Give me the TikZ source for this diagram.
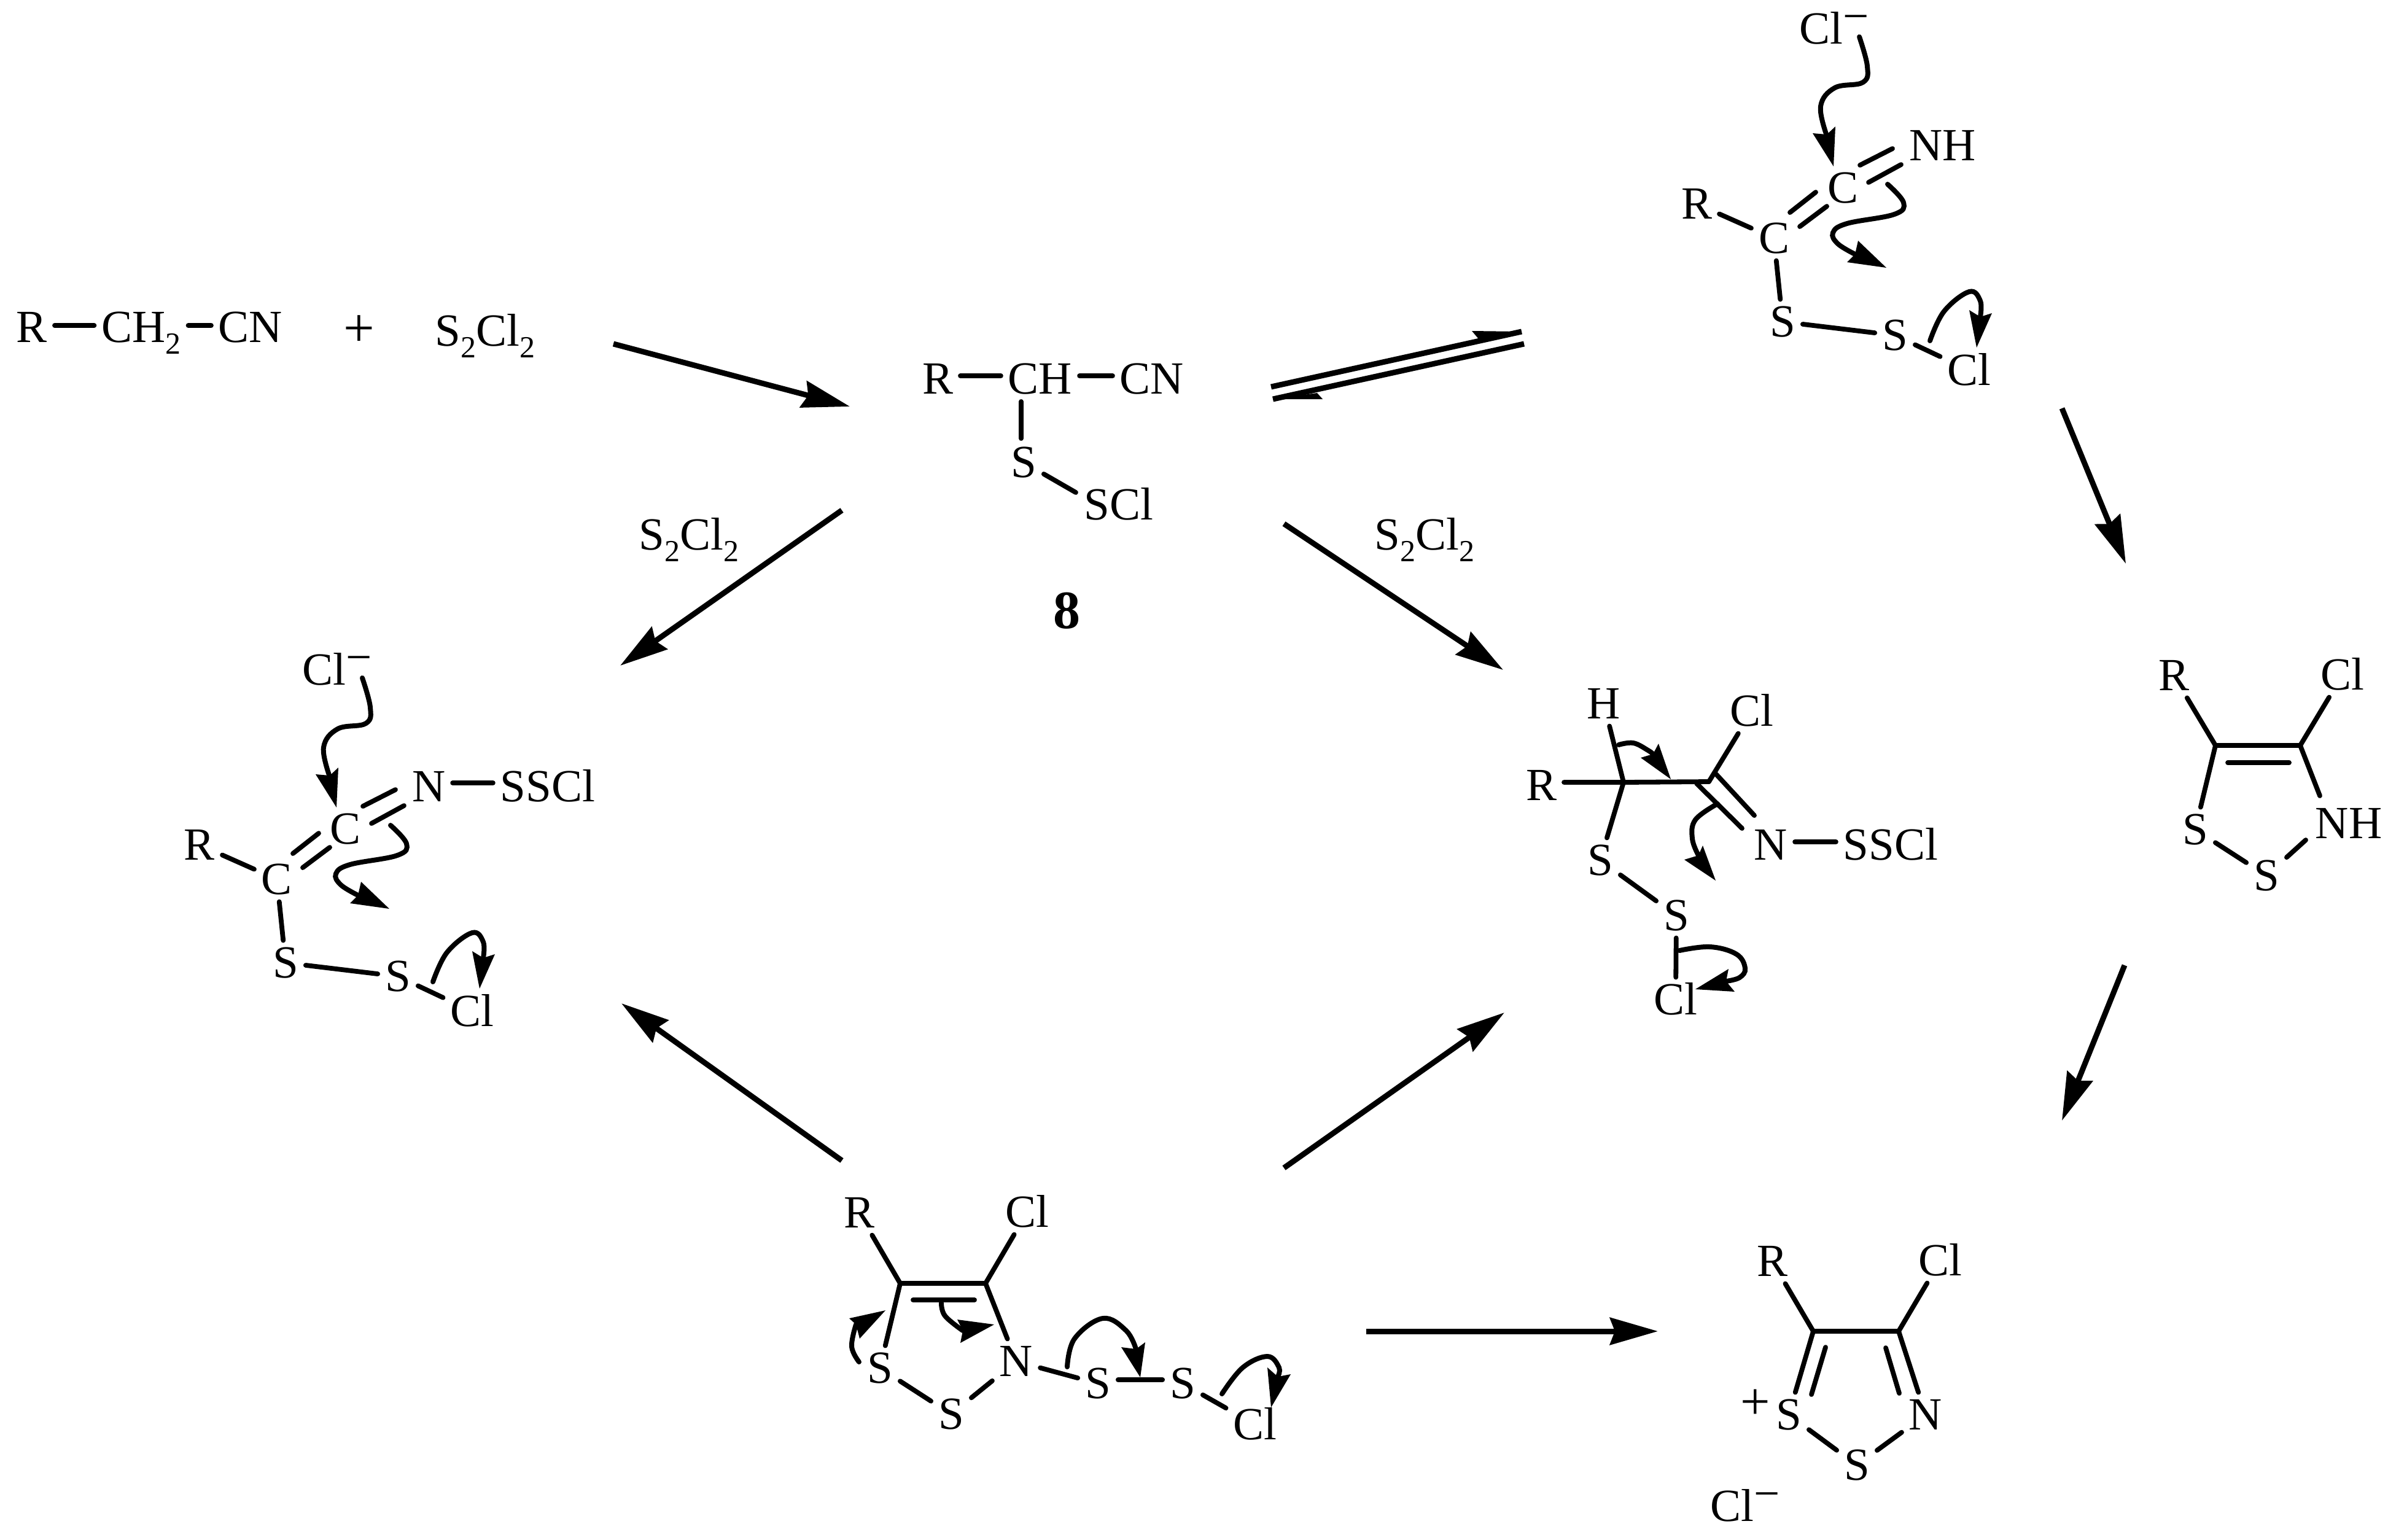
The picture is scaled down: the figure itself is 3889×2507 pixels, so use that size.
\documentclass[tikz,border=0pt]{standalone}
\usepackage{fontspec}
\setmainfont{Liberation Serif}
\usetikzlibrary{arrows.meta}
\newcommand\mysub[1]{\raisebox{-1.9pt}{\fontsize{5}{5}\selectfont #1}}
\newcommand\myminus{\raisebox{2pt}{−}}
\newcommand\curly[5]{%
  \draw[curve] plot[smooth,tension=.65] coordinates {#1};
  \fill #2 -- #3 -- #4 -- #5 -- cycle;}
\newcommand\hbond[3]{\draw[bond] ([yshift=#3]#1.east) -- ([yshift=#3]#2.west);}
% shared fragment: C(R)=C=N with S-S-Cl and two curved arrows plus chloride attack
\newcommand\thiofrag[2]{%
  \node[atom] (#1cm) at (2987,47) {Cl\myminus};
  \node[atom] (#1r) at (2763,332) {R};
  \node[atom] (#1ca) at (2889,388) {C};
  \node[atom] (#1cb) at (3001,306) {C};
  \node[atom,anchor=west] (#1n) at (3097,237) {#2};
  \node[atom] (#1sa) at (2903,524) {S};
  \node[atom] (#1sb) at (3086,546) {S};
  \node[atom] (#1cl) at (3207,603) {Cl};
  \draw[bond] (#1r) -- (#1ca);
  \draw[bond] ([shift={(26,-42)}]#1ca.center) -- ([shift={(-44,7)}]#1cb.center);
  \draw[bond] ([shift={(42,-19)}]#1ca.center) -- ([shift={(-26,30)}]#1cb.center);
  \draw[bond] ([shift={(28,-37)}]#1cb.center) -- ([shift={(-15,5)}]#1n.west);
  \draw[bond] ([shift={(42,-9)}]#1cb.center) -- ([shift={(-1,31)}]#1n.west);
  \draw[bond] (#1ca) -- (#1sa);
  \draw[bond] (#1sa) -- (#1sb);
  \draw[bond] (#1sb) -- (#1cl);
  \curly{(3028,60) (3041,108) (3034,134) (2988,143) (2965,173) (2975,221)}
        {(2986,271)}{(2952,217)}{(2975,219)}{(2989,206)}
  \curly{(3074,300) (3100,330) (3085,349) (3008,364) (2985,379) (2993,397) (3021,414)}
        {(3072,436)}{(3008,427)}{(3021,414)}{(3026,392)}
  \curly{(3143,555) (3166,507) (3207,475) (3225,490) (3225,516)}
        {(3219,566)}{(3207,505)}{(3225,516)}{(3244,510)}
}
\tikzset{
  atom/.style={inner sep=0pt,outer sep=1.2pt,text height=4.9pt,text depth=0pt,
    font=\fontsize{7.5}{9}\selectfont},
  bond/.style={line width=.78pt,line cap=round,line join=round},
  curve/.style={line width=.8pt,line cap=round},
  rxn/.style={line width=.9pt,-{Stealth[length=7.8pt,width=4.4pt,inset=.8pt]}},
  eqline/.style={line width=.9pt},
  bigplus/.style={font=\fontsize{#1}{10}\selectfont},
  compound/.style={inner sep=0pt,font=\fontsize{8.8}{10}\selectfont\bfseries}
}
\begin{document}
\begin{tikzpicture}[x=0.1pt,y=-0.1pt]
\useasboundingbox (0,0) rectangle (3889,2507);

% starting materials
\node[atom] (r0) at (52,533) {R};
\node[atom] (ch2) at (230,533) {CH\mysub{2}};
\node[atom] (cn0) at (408,533) {CN};
\node[atom,bigplus=9] (plus0) at (585,540) {+};
\node[atom] (s2a) at (790,539) {S\mysub{2}Cl\mysub{2}};
\hbond{r0}{ch2}{.3pt}
\hbond{ch2}{cn0}{.3pt}

% compound 8
\node[atom] (r8) at (1527,617) {R};
\node[atom] (ch8) at (1694,617) {CH};
\node[atom] (cn8) at (1876,617) {CN};
\node[atom] (s8) at (1667,753) {S};
\node[atom] (scl8) at (1822,822) {SCl};
\node[compound] (num8) at (1737,995) {8};
\hbond{r8}{ch8}{.5pt}
\hbond{ch8}{cn8}{.5pt}
\draw[bond] ([shift={(-31,37)}]ch8.center) -- ([shift={(-4,-39)}]s8.center);
\draw[bond] (s8) -- ([shift={(-70,-20)}]scl8.center);

% reagents on arrows
\node[atom] (s2b) at (1122,871) {S\mysub{2}Cl\mysub{2}};
\node[atom] (s2c) at (2320,871) {S\mysub{2}Cl\mysub{2}};

% upper right and left intermediates
\thiofrag{u}{NH}
\begin{scope}[shift={(-2438,1044)}]
\thiofrag{v}{N}
\node[atom] (vs) at (3330,237) {SSCl};
\end{scope}
\hbond{vn}{vs}{.6pt}

% chlorinated intermediate
\node[atom] (wh) at (2612,1146) {H};
\node[atom] (wcl) at (2853,1158) {Cl};
\node[atom] (wr) at (2510,1279) {R};
\coordinate (wc1) at (2644,1274);
\coordinate (wc2) at (2783,1273);
\node[atom] (wsa) at (2606,1401) {S};
\node[atom] (wsb) at (2730,1491) {S};
\node[atom] (wcl2) at (2729,1628) {Cl};
\node[atom] (wn) at (2884,1376) {N};
\node[atom] (wssc) at (3079,1376) {SSCl};
\draw[bond] ([yshift=.5pt]wr.east) -- (wc1) -- (wc2);
\draw[bond] (wh) -- (wc1);
\draw[bond] (wcl) -- (wc2);
\draw[bond] (wc1) -- (wsa);
\draw[bond] (wsa) -- (wsb);
\draw[bond] (wsb) -- (wcl2);
\draw[bond] ([shift={(11,-13)}]wc2) -- ([shift={(-27,-48)}]wn.center);
\draw[bond] ([shift={(-20,3)}]wc2) -- ([shift={(-47,-27)}]wn.center);
\hbond{wn}{wssc}{.5pt}
\curly{(2636,1213) (2660,1210) (2684,1222) (2692,1228)}
      {(2721,1269)}{(2672,1234)}{(2692,1228)}{(2701,1211)}
\curly{(2797,1309) (2761,1335) (2756,1366) (2766,1393)}
      {(2794,1434)}{(2743,1400)}{(2766,1393)}{(2773,1377)}
\curly{(2735,1548) (2785,1542) (2828,1554) (2842,1577) (2833,1592) (2811,1598)}
      {(2761,1611)}{(2815,1578)}{(2811,1598)}{(2825,1615)}

% NH dithiazole
\node[atom] (xr) at (3540,1100) {R};
\node[atom] (xcl) at (3815,1099) {Cl};
\coordinate (xc1) at (3608,1214);
\coordinate (xc2) at (3746,1214);
\node[atom] (xsa) at (3575,1351) {S};
\node[atom] (xsb) at (3691,1426) {S};
\node[atom] (xnh) at (3825,1341) {NH};
\draw[bond] (xr) -- (xc1) -- (xc2) -- (xcl);
\draw[bond] ([shift={(20,28)}]xc1) -- ([shift={(-18,28)}]xc2);
\draw[bond] (xc1) -- (xsa);
\draw[bond] (xc2) -- ([shift={(-47,-45)}]xnh.center);
\draw[bond] (xsa) -- (xsb);
\draw[bond] (xsb) -- ([shift={(-70,27)}]xnh.center);

% N-SSCl dithiazole with arrows
\node[atom] (yr) at (1399,1975) {R};
\node[atom] (ycl) at (1673,1974) {Cl};
\coordinate (yc1) at (1466,2090);
\coordinate (yc2) at (1605,2090);
\node[atom] (ysa) at (1433,2228) {S};
\node[atom] (ysb) at (1549,2303) {S};
\node[atom] (yn) at (1655,2217) {N};
\node[atom] (ysc) at (1788,2253) {S};
\node[atom] (ysd) at (1926,2253) {S};
\node[atom] (ycl2) at (2044,2320) {Cl};
\draw[bond] (yr) -- (yc1) -- (yc2) -- (ycl);
\draw[bond] ([shift={(21,27)}]yc1) -- ([shift={(-18,27)}]yc2);
\draw[bond] (yc1) -- (ysa);
\draw[bond] (yc2) -- (yn);
\draw[bond] (ysa) -- (ysb);
\draw[bond] (ysb) -- (yn);
\draw[bond] (yn) -- (ysc);
\hbond{ysc}{ysd}{.6pt}
\draw[bond] (ysd) -- (ycl2);
\curly{(1399,2218) (1387,2193) (1394,2157)}
      {(1442,2134)}{(1383,2147)}{(1394,2157)}{(1400,2180)}
\curly{(1533,2122) (1539,2143) (1568,2167)}
      {(1619,2157)}{(1559,2149)}{(1568,2167)}{(1564,2187)}
\curly{(1738,2226) (1750,2180) (1796,2147) (1834,2167) (1850,2197)}
      {(1857,2243)}{(1826,2194)}{(1850,2197)}{(1865,2186)}
\curly{(1990,2270) (2024,2227) (2064,2209) (2083,2227) (2081,2242)}
      {(2070,2292)}{(2064,2227)}{(2081,2242)}{(2102,2238)}

% product
\node[atom] (zr) at (2886,2054) {R};
\node[atom] (zcl) at (3160,2053) {Cl};
\coordinate (zc1) at (2953,2168);
\coordinate (zc2) at (3092,2168);
\node[atom,bigplus=8.6] (zplus) at (2859,2287) {+};
\node[atom] (zsa) at (2913,2304) {S};
\node[atom] (zsb) at (3024,2386) {S};
\node[atom] (zn) at (3136,2304) {N};
\node[atom] (zm) at (2842,2453) {Cl\myminus};
\draw[bond] (zr) -- (zc1) -- (zc2) -- (zcl);
\draw[bond] (zc1) -- (zsa);
\draw[bond] (zc2) -- (zn);
\draw[bond] ([shift={(20,26)}]zc1) -- ([shift={(37,-33)}]zsa.center);
\draw[bond] ([shift={(-21,27)}]zc2) -- ([shift={(-43,-35)}]zn.center);
\draw[bond] (zsa) -- (zsb);
\draw[bond] (zsb) -- (zn);

% reaction arrows
\coordinate (a1s) at (999,560);   \coordinate (a1e) at (1384,662);
\coordinate (a2s) at (1371,831);  \coordinate (a2e) at (1010,1084);
\coordinate (a3s) at (2091,853);  \coordinate (a3e) at (2448,1091);
\coordinate (a4s) at (3358,665);  \coordinate (a4e) at (3462,918);
\coordinate (a5s) at (3460,1572); \coordinate (a5e) at (3358,1825);
\coordinate (a6s) at (1371,1890); \coordinate (a6e) at (1012,1634);
\coordinate (a7s) at (2091,1902); \coordinate (a7e) at (2450,1649);
\coordinate (a8s) at (2225,2168); \coordinate (a8e) at (2700,2168);
\foreach \k in {1,...,8} {\draw[rxn] (a\k s) -- (a\k e);}

% equilibrium arrows
\coordinate (e1s) at (2070,630);  \coordinate (e1e) at (2478,540);
\coordinate (e2s) at (2482,560);  \coordinate (e2e) at (2073,650);
\draw[eqline] (e1s) -- (e1e);
\fill (e1e) -- (2397,539) -- (2408,552) -- cycle;
\draw[eqline] (e2s) -- (e2e);
\fill (e2e) -- (2154,650) -- (2145,640) -- cycle;
\end{tikzpicture}
\end{document}
